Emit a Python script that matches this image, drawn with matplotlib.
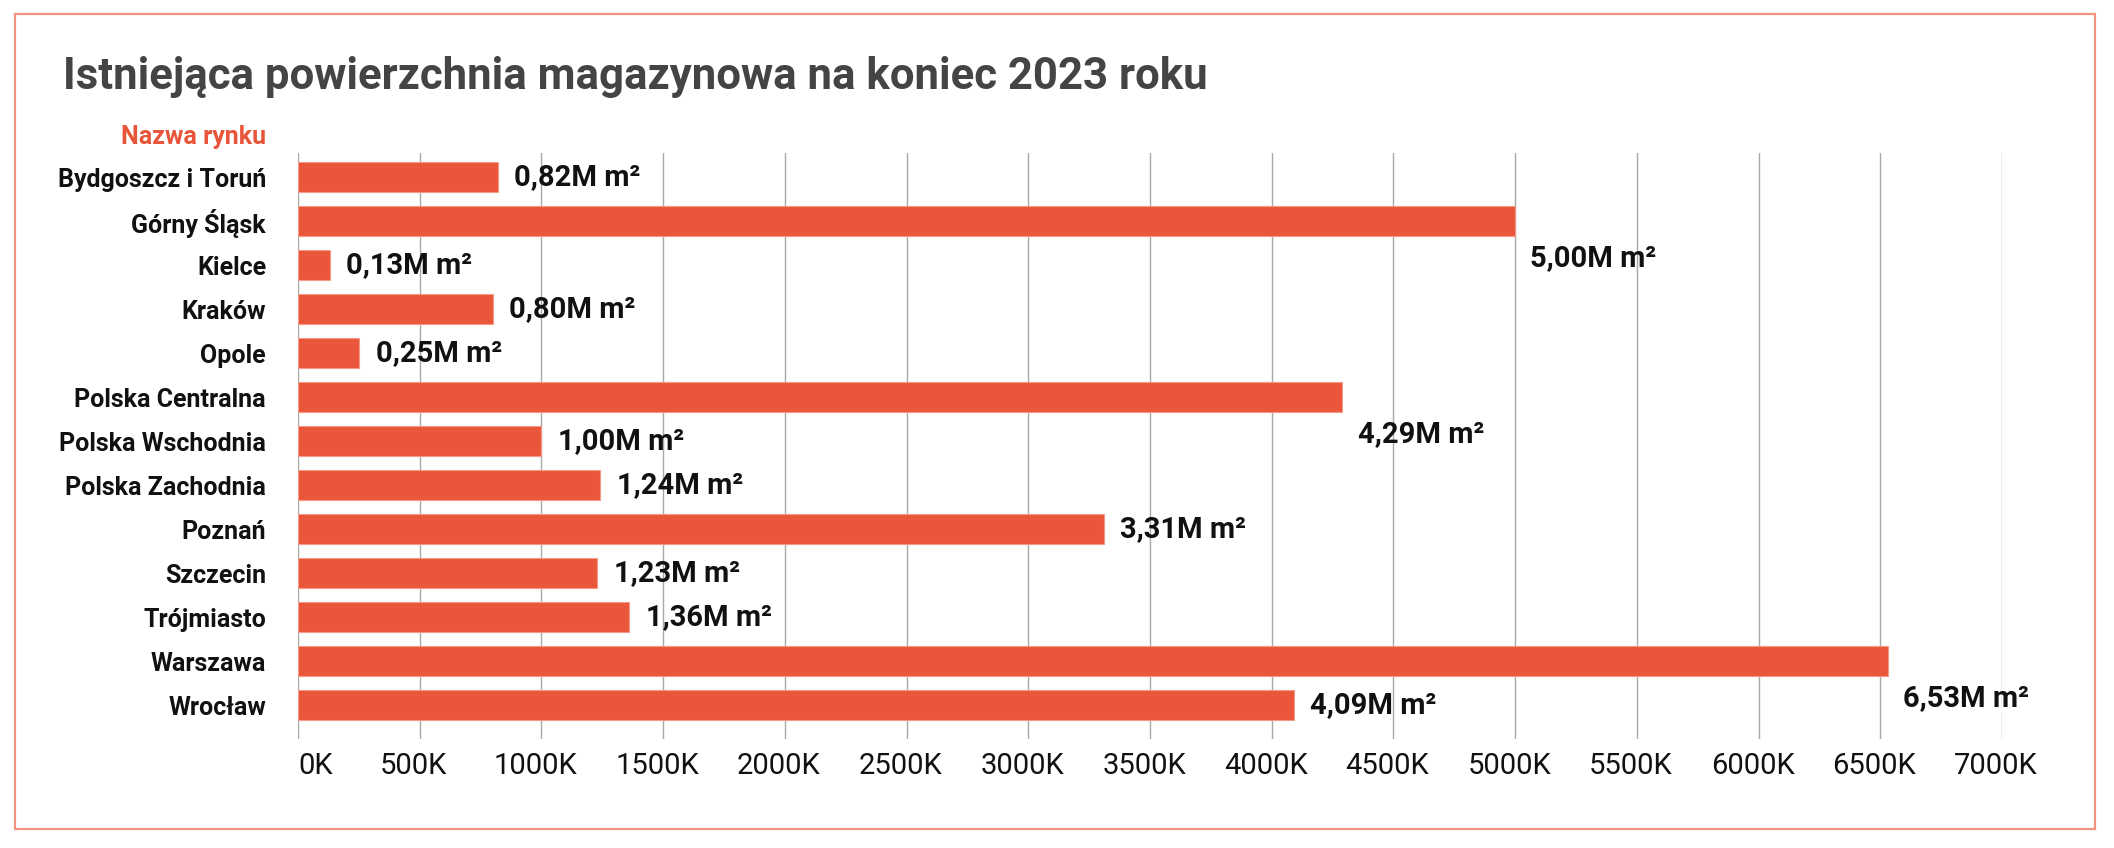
import matplotlib
matplotlib.use("Agg")
import matplotlib.pyplot as plt
from matplotlib.patches import Rectangle
from matplotlib.transforms import ScaledTranslation

categories = ["Bydgoszcz i Toruń", "Górny Śląsk", "Kielce", "Kraków", "Opole",
              "Polska Centralna", "Polska Wschodnia", "Polska Zachodnia", "Poznań",
              "Szczecin", "Trójmiasto", "Warszawa", "Wrocław"]
values_k = [820, 5000, 130, 800, 250, 4290, 1000, 1240, 3310, 1230, 1360, 6530, 4090]
xticks = [0, 500, 1000, 1500, 2000, 2500, 3000, 3500, 4000, 4500, 5000, 5500, 6000, 6500, 7000]
xtick_labels = [f"{t}K" for t in xticks]
title = "Istniejąca powierzchnia magazynowa na koniec 2023 roku"
axis_title = "Nazwa rynku"

plt.rcParams['font.family'] = ['Roboto', 'DejaVu Sans']

W, H = 2114, 848
fig = plt.figure(figsize=(W / 100, H / 100), dpi=100)
fig.patch.set_facecolor("white")

# outer frame
fig.patches.append(Rectangle((15 / W, 1 - 829 / H), (2095 - 15) / W, (829 - 14) / H,
                             transform=fig.transFigure, fill=False,
                             edgecolor="#F2937F", linewidth=1.6))

ax_left, ax_right, ax_top, ax_bot = 298, 2002, 153, 739
ax = fig.add_axes([ax_left / W, 1 - ax_bot / H, (ax_right - ax_left) / W, (ax_bot - ax_top) / H])

bar_color = "#EA5639"
ypos = list(range(len(categories)))
ax.barh(ypos, values_k, height=0.68, color=bar_color, edgecolor="#F29A86",
        linewidth=0.8, zorder=3)

ax.set_xlim(0, 7000)
ax.set_ylim(12.77, -0.55)
ax.set_xticks(xticks)
ax.set_xticklabels(xtick_labels, fontsize=21, color="#111111")
ax.set_yticks(ypos)
ax.set_yticklabels(categories, fontsize=18, fontweight="bold", color="#111111")
ax.tick_params(axis="x", length=0, pad=9)
ax.tick_params(axis="y", length=0, pad=23)
ax.xaxis.grid(True, color="#A8A8A8", linewidth=1.0, zorder=0)
ax.yaxis.grid(False)
for s in ax.spines.values():
    s.set_visible(False)

shift = ScaledTranslation(-6 / 100, 0, fig.dpi_scale_trans)
for i, lab in enumerate(ax.get_xticklabels()):
    if i == 0:
        lab.set_horizontalalignment("left")
    else:
        lab.set_transform(lab.get_transform() + shift)

for y, v in zip(ypos, values_k):
    txt = f"{v / 1000:.2f}".replace(".", ",") + "M m²"
    if v > 4200:
        ax.annotate(txt, (v, y), xytext=(11, -26.5), textcoords="offset points",
                    ha="left", va="center", fontsize=21, fontweight="bold", color="#111111")
    else:
        ax.annotate(txt, (v, y), xytext=(12, 0), textcoords="offset points",
                    ha="left", va="center", fontsize=21, fontweight="bold", color="#111111")

fig.text(63 / W, 1 - 77 / H, title, ha="left", va="center", fontsize=31.5,
         fontweight="bold", color="#444444")
fig.text(266 / W, 1 - 137 / H, axis_title, ha="right", va="center", fontsize=18,
         fontweight="bold", color="#E8553A")

fig.savefig("out.png", dpi=100, facecolor="white")
